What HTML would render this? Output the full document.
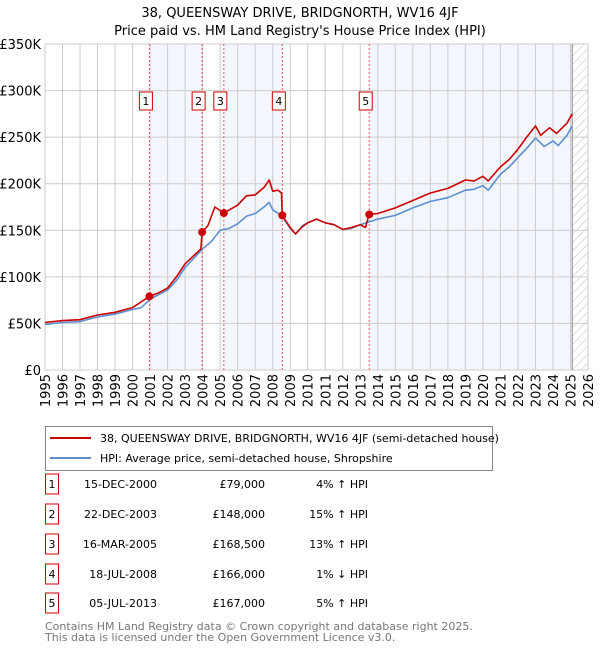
<!DOCTYPE html>
<html><head><meta charset="utf-8"><style>
body{margin:0;background:#fff;font-family:"Liberation Sans","DejaVu Sans",sans-serif;}
svg text{font-family:"DejaVu Sans","Liberation Sans",sans-serif;}
</style></head><body>
<svg id="c" width="600" height="650" xmlns="http://www.w3.org/2000/svg">
<defs><pattern id="hatch" width="6" height="6" patternUnits="userSpaceOnUse" patternTransform="rotate(45)"><line x1="0" y1="0" x2="0" y2="6" stroke="#bbb" stroke-width="1"/></pattern></defs>
<text x="300" y="17" text-anchor="middle" font-size="13" fill="#000">38, QUEENSWAY DRIVE, BRIDGNORTH, WV16 4JF</text>
<text x="300" y="35" text-anchor="middle" font-size="13" fill="#000">Price paid vs. HM Land Registry's House Price Index (HPI)</text>
<g id="plot"></g>
<g>
<rect x="45.5" y="426.5" width="447" height="44" fill="#fff" stroke="#888"/>
<line x1="50" y1="438" x2="91" y2="438" stroke="#cc0000" stroke-width="2"/>
<text x="100" y="442" font-size="11">38, QUEENSWAY DRIVE, BRIDGNORTH, WV16 4JF (semi-detached house)</text>
<line x1="50" y1="458" x2="91" y2="458" stroke="#5b8fd0" stroke-width="2"/>
<text x="100" y="462" font-size="11">HPI: Average price, semi-detached house, Shropshire</text>
</g>
<g id="table" font-size="11"></g>
<text x="45" y="630" font-size="11" fill="#777">Contains HM Land Registry data © Crown copyright and database right 2025.</text>
<text x="45" y="641" font-size="11" fill="#777">This data is licensed under the Open Government Licence v3.0.</text>
</svg>
<script>
const hpiYears=[1995,1996,1997,1998,1999,2000,2000.5,2001,2002,2002.5,2003,2003.5,2004,2004.5,2005,2005.5,2006,2006.5,2007,2007.5,2007.8,2008,2008.5,2009,2009.3,2009.7,2010,2010.5,2011,2011.5,2012,2012.5,2013,2013.5,2014,2015,2016,2017,2018,2019,2019.5,2020,2020.3,2021,2021.5,2022,2022.5,2023,2023.5,2024,2024.3,2024.8,2025.1];
const hpiValues=[49,51,52,57,60,65,67,76,86,96,110,120,130,138,150,152,157,165,168,175,180,172,166,152,146,155,158,162,158,156,151,152,156,159,162,166,174,181,185,193,194,198,193,210,218,228,238,249,240,246,241,252,262];
const priceYears=[1995,1996,1997,1998,1999,2000,2000.96,2001.5,2002,2002.5,2003,2003.9,2003.97,2004.3,2004.7,2005.2,2006,2006.5,2007,2007.5,2007.8,2008,2008.3,2008.5,2008.55,2009,2009.3,2009.7,2010,2010.5,2011,2011.5,2012,2012.5,2013,2013.3,2013.5,2014,2015,2016,2017,2018,2019,2019.5,2020,2020.3,2021,2021.5,2022,2022.5,2023,2023.3,2023.8,2024.2,2024.8,2025.1];
const priceValues=[51,53,54,59,62,67,79,83,88,100,114,130,148,155,175,168.5,177,187,188,196,204,192,193,190,166,153,146,154,158,162,158,156,151,153,156,153,167,168,174,182,190,195,204,203,208,203,218,226,237,250,262,252,260,254,265,275];
const saleLabels=["1","2","3","4","5"];
const saleYears=[2000.96,2003.97,2005.21,2008.55,2013.51];
const saleValues=[79,148,168.5,166,167];
const saleDates=["15-DEC-2000","22-DEC-2003","16-MAR-2005","18-JUL-2008","05-JUL-2013"];
const salePrices=["£79,000","£148,000","£168,500","£166,000","£167,000"];
const saleHpi=["4% ↑ HPI","15% ↑ HPI","13% ↑ HPI","1% ↓ HPI","5% ↑ HPI"];
const yTicks=[0,50,100,150,200,250,300,350];
const yTickLabels=["£0","£50K","£100K","£150K","£200K","£250K","£300K","£350K"];
const xTicks=[1995,1996,1997,1998,1999,2000,2001,2002,2003,2004,2005,2006,2007,2008,2009,2010,2011,2012,2013,2014,2015,2016,2017,2018,2019,2020,2021,2022,2023,2024,2025,2026];
const dataEnd=2025.1;

const L=45,R=588,T=44,B=370;
const X=y=>L+(y-1995)/(2026-1995)*(R-L);
const Y=v=>B-v/350*(B-T);
const NS="http://www.w3.org/2000/svg";
const plot=document.getElementById('plot');
function mk(tag,attrs,parent){const e=document.createElementNS(NS,tag);for(const k in attrs)e.setAttribute(k,attrs[k]);(parent||plot).appendChild(e);return e;}

const bands=[[0,1],[2,3],[4,null]];
bands.forEach((b,i)=>{
  const x1=X(saleYears[b[0]]),x2=b[1]===null?X(dataEnd):X(saleYears[b[1]]);
  const r=mk('rect',{x:x1,y:T,width:x2-x1,height:B-T,fill:'#f3f6fd'});
  
  
});
const h=mk('rect',{x:X(dataEnd),y:T,width:R-X(dataEnd),height:B-T,fill:'url(#hatch)'});


yTicks.forEach((v,i)=>{
  const l=mk('line',{x1:L,x2:R,y1:Y(v),y2:Y(v),stroke:'#ccc','stroke-width':1});
  
  
  const t=mk('text',{x:L-4,y:Y(v)+5,'text-anchor':'end','font-size':13});
  t.textContent=yTickLabels[i];
  
  
});
xTicks.forEach(yr=>{
  const l=mk('line',{x1:X(yr),x2:X(yr),y1:T,y2:B,stroke:'#ccc','stroke-width':1});
  
  
  const t=mk('text',{x:0,y:0,'font-size':13,'text-anchor':'end',transform:`translate(${X(yr)+5},${B+4}) rotate(-90)`});
  t.textContent=yr;
  
  
});
mk('line',{x1:X(dataEnd),x2:X(dataEnd),y1:T,y2:B,stroke:'#888','stroke-width':1});
saleYears.forEach((yr,i)=>{
  const l=mk('line',{x1:X(yr),x2:X(yr),y1:T,y2:B,stroke:'#e55','stroke-width':1,'stroke-dasharray':'2,2'});
  
  
  const g=mk('g',{});
  
  
  mk('rect',{x:X(yr)-10,y:92,width:13,height:18,fill:'#fff',stroke:'#cc0000'},g);
  const t=mk('text',{x:X(yr)-3.5,y:105,'text-anchor':'middle','font-size':11},g);
  t.textContent=saleLabels[i];
});
function path(xs,vs,color,name){
  const d=xs.map((x,i)=>(i?'L':'M')+X(x).toFixed(1)+','+Y(vs[i]).toFixed(1)).join('');
  const p=mk('path',{d:d,fill:'none',stroke:color,'stroke-width':1.6,'stroke-linejoin':'round'});
  
  
}
path(hpiYears,hpiValues,'#5b8fd0','hpi-line');
path(priceYears,priceValues,'#cc0000','price-line');
saleYears.forEach((yr,i)=>{
  const c=mk('circle',{cx:X(yr),cy:Y(saleValues[i]),r:4,fill:'#cc0000'});
  
  
});
const tbl=document.getElementById('table');
const rowY=[487,517,547,577,606];
saleLabels.forEach((lab,i)=>{
  const g=mk('g',{},tbl);
  
  
  mk('rect',{x:45.5,y:rowY[i]-13,width:13,height:20,fill:'#fff',stroke:'#cc0000'},g);
  let t=mk('text',{x:52,y:rowY[i]+1,'text-anchor':'middle'},g);t.textContent=lab;
  t=mk('text',{x:157,y:rowY[i]+1,'text-anchor':'end'},g);t.textContent=saleDates[i];
  t=mk('text',{x:265,y:rowY[i]+1,'text-anchor':'end'},g);t.textContent=salePrices[i];
  t=mk('text',{x:368,y:rowY[i]+1,'text-anchor':'end'},g);t.textContent=saleHpi[i];
});
</script>
</body></html>
